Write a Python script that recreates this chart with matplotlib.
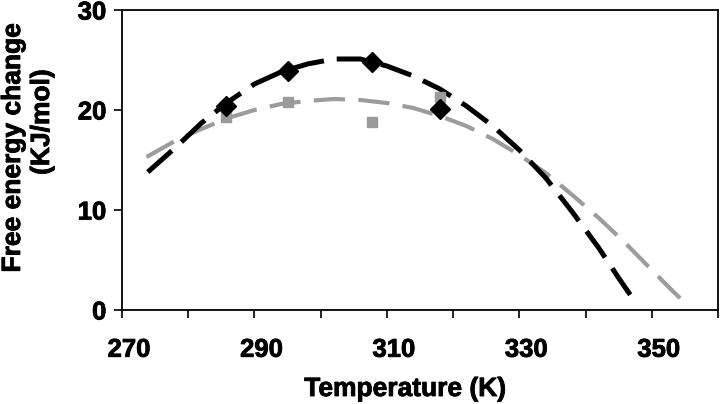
import matplotlib
matplotlib.use("Agg")
import matplotlib.pyplot as plt
import matplotlib.patheffects as pe
from matplotlib.transforms import ScaledTranslation

# Measured data points
temp_pts = [285.7, 295.0, 307.8, 318.0]
dg_black_pts = [20.4, 23.9, 24.8, 20.1]
dg_grey_pts = [19.3, 20.8, 18.8, 21.3]

# Trend curves
curve_black_T = [273.9, 278, 282, 286, 290, 294, 298, 302, 306, 310, 314, 318,
                 322, 326, 330, 334, 338, 342, 345, 347.5]
curve_black_v = [13.8, 16.2, 18.7, 20.8, 22.6, 23.8, 24.6, 25.1, 25.1, 24.4, 23.4, 22.1,
                 20.4, 18.4, 16.0, 13.2, 9.8, 6.2, 3.2, 0.8]
curve_grey_T = [273.7, 278, 282, 286, 290, 294, 298, 302, 306, 310, 314, 318, 322,
                326, 330, 334, 338, 342, 346, 350, 353, 355.5]
curve_grey_v = [15.3, 16.9, 18.1, 19.2, 20.0, 20.6, 20.9, 21.1, 21.0, 20.7, 20.2, 19.4, 18.4,
                17.1, 15.5, 13.7, 11.5, 9.2, 6.7, 4.0, 2.0, 0.4]

x_ticks = [270, 280, 290, 300, 310, 320, 330, 340, 350, 360]
x_labels = ["270", "", "290", "", "310", "", "330", "", "350", ""]
y_ticks = [0, 10, 20, 30]

plt.rcParams['font.family'] = ['Liberation Sans', 'DejaVu Sans']
plt.rcParams['font.weight'] = 'bold'

heavy = [pe.withStroke(linewidth=0.6, foreground='black')]

fig = plt.figure(figsize=(7.2, 4.04), dpi=100)
ax = fig.add_axes([122/720, 1-310/404, (718-122)/720, 300/404])

ax.plot(curve_grey_T, curve_grey_v, color='#9c9c9c', lw=3.0,
        linestyle=(0, (7.5, 3.2)), dash_capstyle='butt', zorder=2)
ax.plot(curve_black_T, curve_black_v, color='black', lw=3.6,
        linestyle=(0, (6.4, 2.6)), dash_capstyle='butt', zorder=3)
ax.plot(temp_pts, dg_grey_pts, linestyle='none', marker='s', markersize=7.5,
        color='#9a9a9a', zorder=4)
ax.plot(temp_pts, dg_black_pts, linestyle='none', marker='D', markersize=10,
        color='black', zorder=5)

ax.set_xlim(270, 360)
ax.set_ylim(0, 30)
ax.set_xticks(x_ticks)
ax.set_xticklabels(x_labels)
ax.set_yticks(y_ticks)
ax.tick_params(axis='x', direction='out', length=5.5, width=1.2, pad=14.5, labelsize=18.5)
ax.tick_params(axis='y', direction='out', length=5.8, width=1.2, pad=5.5, labelsize=18.5)
for s in ax.spines.values():
    s.set_linewidth(1.3)

shift = ScaledTranslation(7/100, 0, fig.dpi_scale_trans)
for lab in ax.get_xticklabels():
    lab.set_transform(lab.get_transform() + shift)
    lab.set_path_effects(heavy)
for lab in ax.get_yticklabels():
    lab.set_path_effects(heavy)

fig.text(405/720, 1-389/404, "Temperature (K)", fontsize=19, fontweight='bold',
         ha='center', va='center', path_effects=heavy)
fig.text(13/720, 1-148/404, "Free energy change", rotation=90, fontsize=19,
         fontweight='bold', ha='center', va='center', path_effects=heavy)
fig.text(42/720, 1-122/404, "(KJ/mol)", rotation=90, fontsize=19,
         fontweight='bold', ha='center', va='center', path_effects=heavy)

fig.savefig("out.png", dpi=100)
